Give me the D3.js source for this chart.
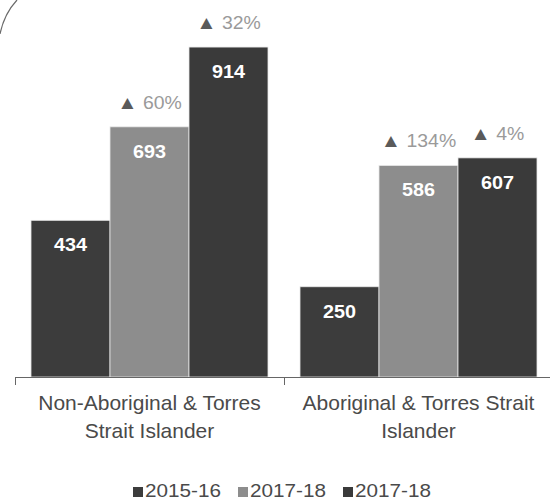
<!DOCTYPE html>
<html>
<head>
<meta charset="utf-8">
<script src="https://cdn.jsdelivr.net/npm/d3@7"></script>
<style>
  html, body { margin: 0; padding: 0; background: #fff; }
  svg { display: block; font-family: "Liberation Sans", Arial, sans-serif; }
</style>
</head>
<body>
<svg id="chart" width="550" height="502"></svg>
<script>
// Population groups and their wrapped axis labels
const categories = ["Non-Aboriginal & Torres Strait Islander", "Aboriginal & Torres Strait Islander"];
const categoryLines = [["Non-Aboriginal & Torres", "Strait Islander"], ["Aboriginal & Torres Strait", "Islander"]];

// Series (legend keeps the period labels as published)
const seriesNames = ["2015-16", "2017-18", "2017-18"];
const seriesColors = ["#3c3c3c", "#8d8d8d", "#3a3a3a"];

// Counts per series, one value per category
const values2015 = [434, 250];
const values2017a = [693, 586];
const values2017b = [914, 607];
const seriesValues = [values2015, values2017a, values2017b];

// Change versus the previous bar in each group
const changeLabels = [[null, null], ["60%", "134%"], ["32%", "4%"]];

const svg = d3.select("#chart");

const x0 = d3.scaleBand().domain(categories).range([15, 553]).paddingInner(0).paddingOuter(0);
const x1 = d3.scaleBand().domain(d3.range(seriesNames.length)).range([16, x0.bandwidth() - 16]).padding(0);
const y = d3.scaleLinear().domain([0, 1000]).range([377, 16]);

// decorative arc in the corner
svg.append("path")
  .attr("d", "M0,34 Q4,14 17,0")
  .attr("fill", "none")
  .attr("stroke", "#6a6a6a")
  .attr("stroke-width", 1.2);

// bars
const rows = [];
categories.forEach((c, ci) => {
  seriesValues.forEach((vals, si) => {
    rows.push({cat: c, ci, si, value: vals[ci], change: changeLabels[si][ci]});
  });
});

svg.append("g").selectAll("rect")
  .data(rows)
  .join("rect")
  .attr("x", d => x0(d.cat) + x1(d.si))
  .attr("y", d => y(d.value))
  .attr("width", x1.bandwidth())
  .attr("height", d => y(0) - y(d.value))
  .attr("fill", d => seriesColors[d.si])
  .attr("stroke", "#e8e8e8")
  .attr("stroke-width", 0.8);

// value labels inside bars
svg.append("g").selectAll("text")
  .data(rows)
  .join("text")
  .attr("transform", d => `translate(${x0(d.cat) + x1(d.si) + x1.bandwidth() / 2},${y(d.value) + 31}) scale(1.1,1)`)
  .attr("text-anchor", "middle")
  .attr("font-size", 18)
  .attr("font-weight", "bold")
  .attr("fill", "#fff")
  .text(d => d.value);

// change labels above bars
const chg = svg.append("g").selectAll("text")
  .data(rows.filter(d => d.change))
  .join("text")
  .attr("transform", d => `translate(${x0(d.cat) + x1(d.si) + x1.bandwidth() / 2},${y(d.value) - 18}) scale(1.08,1)`)
  .attr("text-anchor", "middle")
  .attr("font-size", 18)
  .attr("fill", "#9a9a9a");
chg.append("tspan").attr("font-size", 19).attr("fill", "#5a5a5a").text("▲");
chg.append("tspan").text(d => " " + d.change);

// x axis
const axis = svg.append("g").attr("transform", `translate(0,${y(0)})`)
  .call(d3.axisBottom(x0).tickSize(0).tickFormat(""));
axis.select(".domain").attr("stroke", "#666").attr("d", "M15,0.5H550");
axis.selectAll(".tick").remove();
const bounds = [0, 1].map(i => x0(categories[i]));
axis.selectAll(".bound")
  .data(bounds)
  .join("line")
  .attr("class", "bound")
  .attr("x1", d => d + 0.5).attr("x2", d => d + 0.5)
  .attr("y1", 0).attr("y2", 8)
  .attr("stroke", "#666");

// category labels
const catG = svg.append("g").selectAll("text")
  .data(categories)
  .join("text")
  .attr("transform", d => `translate(${x0(d) + x0.bandwidth() / 2},410) scale(1.05,1)`)
  .attr("text-anchor", "middle")
  .attr("font-size", 20)
  .attr("fill", "#4a4a4a");
catG.selectAll("tspan")
  .data((d, i) => categoryLines[i])
  .join("tspan")
  .attr("x", 0)
  .attr("dy", (d, i) => i === 0 ? 0 : 28)
  .text(d => d);

// legend
const legendX = [133, 238, 343];
const leg = svg.append("g").selectAll("g")
  .data(seriesNames)
  .join("g")
  .attr("transform", (d, i) => `translate(${legendX[i]},497)`);
leg.append("rect")
  .attr("x", 0).attr("y", -10)
  .attr("width", 10).attr("height", 10)
  .attr("fill", (d, i) => seriesColors[i]);
leg.append("text")
  .attr("transform", "translate(12,0) scale(1.15,1)")
  .attr("font-size", 18)
  .attr("fill", "#4a4a4a")
  .text(d => d);
</script>
</body>
</html>
